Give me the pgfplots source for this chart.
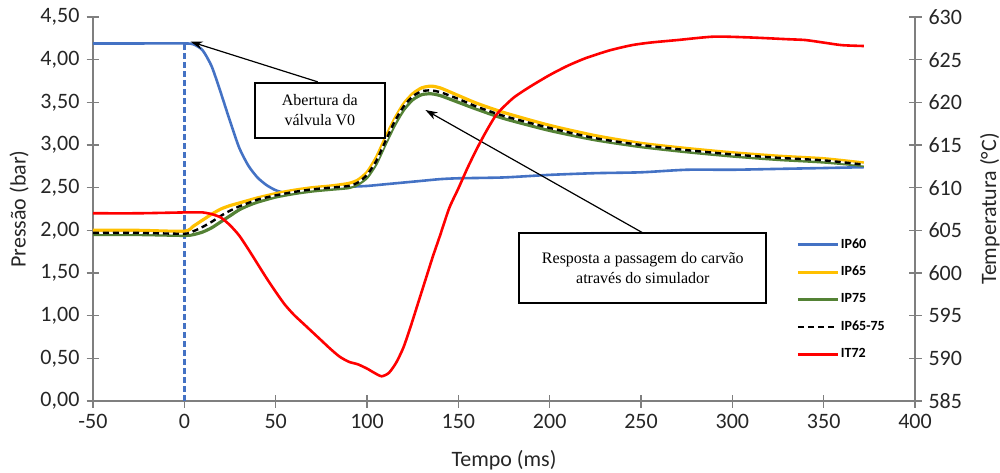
\documentclass[border=0pt]{standalone}
\usepackage{fontspec}
\setmainfont{Carlito}
\newfontfamily\timesf{Liberation Serif}
\usepackage{pgfplots}
\pgfplotsset{compat=1.18}
\usetikzlibrary{arrows.meta}

\definecolor{cblue}{HTML}{4472C4}
\definecolor{cyellow}{HTML}{FFC000}
\definecolor{cgreen}{HTML}{548235}
\definecolor{axgray}{HTML}{7F7F7F}

\pgfplotsset{
  base/.style={
    width=411pt, height=192pt, scale only axis,
    xmin=-50, xmax=400,
    tick align=center, major tick length=6.5pt,
    major tick style={axgray, line width=0.6pt},
    axis line style={axgray, line width=0.8pt, -},
    tick label style={font=\fontsize{11}{13}\selectfont, text=black!85},
    label style={font=\fontsize{11}{13}\selectfont, text=black!85},
    /pgf/number format/assume math mode=true,
    clip=false,
  }
}

\begin{document}
\begin{tikzpicture}
% eixo da esquerda: pressao
\begin{axis}[base,
  axis x line*=bottom, axis y line*=left,
  xtick={-50,0,50,100,150,200,250,300,350,400},
  ymin=0, ymax=4.5, ytick={0,0.5,1,1.5,2,2.5,3,3.5,4,4.5},
  yticklabel style={/pgf/number format/.cd, fixed, fixed zerofill, precision=2, use comma},
  xlabel={Tempo (ms)}, ylabel={Pressão (bar)},
  xlabel style={at={(axis description cs:0.5,-0.154)}, anchor=center},
  ylabel style={at={(axis description cs:-0.09,0.5)}, anchor=center},
]
\addplot[cblue, line width=1.2pt, dash pattern=on 3pt off 1.5pt, forget plot] coordinates {(0,0) (0,4.19)};

\addplot[cblue, line width=1.3pt, smooth, tension=0.4] coordinates {
(-50,4.19) (-25,4.19) (0,4.19) (5,4.18) (10,4.11) (15,3.92) (20,3.61) (25,3.28) (30,2.97)
(35,2.76) (40,2.62) (45,2.53) (50,2.47) (55,2.44) (60,2.45) (70,2.47) (80,2.49) (90,2.51)
(100,2.52) (110,2.54) (120,2.56) (130,2.58) (140,2.60) (150,2.61) (175,2.62) (200,2.65)
(225,2.67) (250,2.68) (275,2.71) (300,2.71) (325,2.72) (350,2.73) (372,2.74)
};
\addplot[cyellow, line width=1.6pt, smooth, tension=0.4] coordinates {
(-50,2.00) (-25,2.00) (0,1.99) (5,2.05) (10,2.12) (15,2.19) (20,2.25) (25,2.29) (30,2.32)
(35,2.35) (40,2.38) (50,2.43) (60,2.47) (70,2.50) (80,2.52) (90,2.55) (95,2.59) (100,2.68)
(105,2.85) (110,3.08) (115,3.30) (120,3.48) (125,3.60) (130,3.67) (135,3.69) (140,3.67)
(150,3.58) (160,3.49) (175,3.38) (200,3.23) (225,3.11) (250,3.02) (275,2.96) (300,2.91)
(325,2.87) (350,2.84) (372,2.79)
};
\addplot[cgreen, line width=1.6pt, smooth, tension=0.4] coordinates {
(-50,1.95) (-25,1.95) (0,1.94) (5,1.95) (10,1.98) (15,2.03) (20,2.10) (25,2.17) (30,2.24)
(35,2.29) (40,2.33) (50,2.39) (60,2.43) (70,2.46) (80,2.48) (90,2.50) (95,2.54) (100,2.62)
(105,2.78) (110,3.01) (115,3.23) (120,3.41) (125,3.53) (130,3.59) (135,3.60) (140,3.58)
(150,3.50) (160,3.42) (175,3.31) (200,3.17) (225,3.06) (250,2.98) (275,2.92) (300,2.87)
(325,2.83) (350,2.80) (372,2.76)
};
\pgfplotstableread{
x y
-50 1.97
-25 1.97
0 1.96
5 1.99
10 2.04
15 2.10
20 2.17
25 2.23
30 2.28
35 2.32
40 2.36
50 2.41
60 2.45
70 2.48
80 2.50
90 2.52
95 2.56
100 2.65
105 2.81
110 3.04
115 3.27
120 3.45
125 3.57
130 3.63
135 3.64
140 3.62
150 3.54
160 3.45
175 3.34
200 3.20
225 3.08
250 3.00
275 2.94
300 2.89
325 2.85
350 2.82
372 2.77
}\ipmedia
\addplot[white, line width=0.9pt, smooth, tension=0.4, forget plot] table {\ipmedia};
\addplot[black, line width=1.2pt, dash pattern=on 3pt off 2pt, smooth, tension=0.4] table {\ipmedia};

% anotacoes
\draw[black, line width=0.6pt, -{Stealth[length=6pt,width=4pt]}] (axis cs:73,3.74) -- (axis cs:3.5,4.21);
\draw[black, line width=0.6pt, -{Stealth[length=6pt,width=4pt]}] (axis cs:251,1.97) -- (axis cs:132,3.41);
\node[draw=black, fill=white, line width=1pt, minimum width=65pt, minimum height=27.5pt,
  align=center, font=\timesf\fontsize{8}{10}\selectfont, inner sep=1pt]
  at (axis cs:74.2,3.41) {Abertura da\\válvula V0};
\node[draw=black, fill=white, line width=1pt, minimum width=123.5pt, minimum height=35pt,
  align=center, font=\timesf\fontsize{8}{10}\selectfont, inner sep=1pt]
  at (axis cs:251,1.56) {Resposta a passagem do carvão\\através do simulador};

\coordinate (ll) at (rel axis cs:0,0);
\coordinate (ur) at (rel axis cs:1,1);
\end{axis}

% eixo da direita: temperatura
\begin{axis}[base,
  axis x line=none, axis y line*=right,
  ymin=585, ymax=630, ytick={585,590,595,600,605,610,615,620,625,630},
  ylabel={Temperatura (°C)},
  ylabel style={at={(axis description cs:1.091,0.5)}, anchor=center, rotate=0},
  legend style={at={(axis description cs:0.848,0.44)}, anchor=north west, draw=none, fill=none,
    font=\fontsize{7}{8}\selectfont\bfseries, row sep=5.5pt, nodes={inner sep=1pt}},
  legend cell align=left,
  legend image code/.code={\draw[#1] (0cm,0cm) -- (0.7cm,0cm);},
]
\addlegendimage{cblue, line width=1.3pt}
\addlegendentry{IP60}
\addlegendimage{cyellow, line width=1.3pt}
\addlegendentry{IP65}
\addlegendimage{cgreen, line width=1.3pt}
\addlegendentry{IP75}
\addlegendimage{black, line width=1.2pt, dash pattern=on 3pt off 2pt}
\addlegendentry{IP65-75}
\addplot[red, line width=1.3pt, smooth, tension=0.4] coordinates {
(-50,607.0) (-25,607.0) (0,607.1) (5,607.1) (10,607.1) (15,606.9) (20,606.5) (25,605.6)
(30,604.4) (35,602.8) (40,601.1) (45,599.4) (50,597.8) (55,596.3) (60,595.1) (65,594.1)
(70,593.1) (75,592.1) (80,591.1) (85,590.2) (90,589.6) (95,589.3) (100,588.8) (104,588.3)
(108,587.9) (112,588.3) (116,589.5) (120,591.3) (124,593.8) (128,596.5) (132,599.2)
(136,601.9) (140,604.4) (145,607.6) (150,609.9) (155,612.3) (160,614.5) (165,616.5)
(171,618.6) (180,620.5) (189,621.8) (200,623.2) (210,624.3) (220,625.2) (233,626.1) (245,626.7)
(255,627.0) (270,627.3) (290,627.7) (310,627.6) (330,627.4) (340,627.3) (350,627.0)
(360,626.7) (372,626.6)
};
\addlegendentry{IT72}
\end{axis}

\pgfresetboundingbox
\path ([shift={(-46.5pt,-35.5pt)}]ll) rectangle ([shift={(42.5pt,8.5pt)}]ur);
\end{tikzpicture}
\end{document}
